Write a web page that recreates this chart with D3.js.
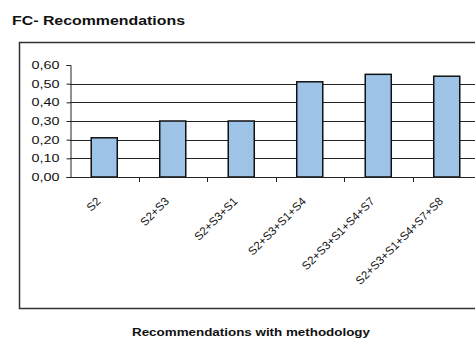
<!DOCTYPE html>
<html>
<head>
<meta charset="utf-8">
<script src="https://cdn.jsdelivr.net/npm/d3@7"></script>
<style>
  body { margin: 0; background: #fff; }
  text { font-family: "Liberation Sans", Arial, sans-serif; fill: #111; }
</style>
</head>
<body>
<svg id="chart" width="475" height="347"></svg>
<script>
// ── Data ──────────────────────────────────────────────────────────────────────
const categories = ['S2', 'S2+S3', 'S2+S3+S1', 'S2+S3+S1+S4', 'S2+S3+S1+S4+S7', 'S2+S3+S1+S4+S7+S8'];
const values     = [0.21, 0.30, 0.30, 0.51, 0.55, 0.54];
const yTicks     = [0, 0.1, 0.2, 0.3, 0.4, 0.5, 0.6];

const svg = d3.select('#chart');

// title
svg.append('text')
	.attr('x', 12).attr('y', 25)
	.attr('font-size', 13).attr('font-weight', 'bold')
	.attr('textLength', 173).attr('lengthAdjust', 'spacingAndGlyphs')
	.text('FC- Recommendations');

// outer chart frame (runs off right edge)
svg.append('rect')
	.attr('x', 19.5).attr('y', 42.5)
	.attr('width', 500).attr('height', 266)
	.attr('fill', 'none').attr('stroke', '#333').attr('stroke-width', 1.5);

// ── Scales ────────────────────────────────────────────────────────────────────
const x = d3.scaleBand().domain(categories).range([70, 481]).paddingInner(0.62).paddingOuter(0.31);
const y = d3.scaleLinear().domain([0, 0.6]).range([177, 65]);

// gridlines
svg.append('g').selectAll('line')
	.data(yTicks.filter(t => t > 0 && t < 0.6))
	.join('line')
	.attr('x1', 70).attr('x2', 475)
	.attr('y1', d => Math.round(y(d)) + 0.5).attr('y2', d => Math.round(y(d)) + 0.5)
	.attr('stroke', '#222').attr('stroke-width', 1);

// bars
svg.append('g').selectAll('rect')
	.data(values)
	.join('rect')
	.attr('x', (d, i) => x(categories[i]))
	.attr('y', d => y(d))
	.attr('width', x.bandwidth())
	.attr('height', d => y(0) - y(d))
	.attr('fill', '#9dc3e6')
	.attr('stroke', '#111').attr('stroke-width', 1.5);

// y axis
const yAxis = svg.append('g')
	.attr('transform', 'translate(70.5,0)')
	.call(d3.axisLeft(y).tickValues(yTicks).tickSize(4).tickPadding(7)
		.tickFormat(d => d3.format('.2f')(d).replace('.', ',')));
yAxis.select('.domain').attr('stroke', '#222');
yAxis.selectAll('.tick line').attr('stroke', '#222');
yAxis.selectAll('.tick text')
	.attr('font-size', 11)
	.attr('font-family', '"Liberation Sans", Arial, sans-serif')
	.attr('fill', '#111')
	.attr('textLength', 28).attr('lengthAdjust', 'spacingAndGlyphs');

// x axis line with boundary ticks
const step = x.step();
const bounds = d3.range(categories.length + 1).map(i => 70 + i * step);
svg.append('line')
	.attr('x1', 70).attr('x2', 475)
	.attr('y1', 177.5).attr('y2', 177.5)
	.attr('stroke', '#222');
svg.append('g').selectAll('line')
	.data(bounds.slice(1))
	.join('line')
	.attr('x1', d => Math.round(d) + 0.5).attr('x2', d => Math.round(d) + 0.5)
	.attr('y1', 177).attr('y2', 182)
	.attr('stroke', '#222');

// rotated category labels
svg.append('g').selectAll('text')
	.data(categories)
	.join('text')
	.attr('transform', d => `translate(${x(d) + x.bandwidth() / 2 - 3},202) rotate(-45)`)
	.attr('text-anchor', 'end')
	.attr('font-size', 11.5)
	.text(d => d);

// x axis title
svg.append('text')
	.attr('x', 251).attr('y', 336)
	.attr('text-anchor', 'middle')
	.attr('font-size', 10.5).attr('font-weight', 'bold')
	.attr('textLength', 238).attr('lengthAdjust', 'spacingAndGlyphs')
	.text('Recommendations with methodology');
</script>
</body>
</html>
